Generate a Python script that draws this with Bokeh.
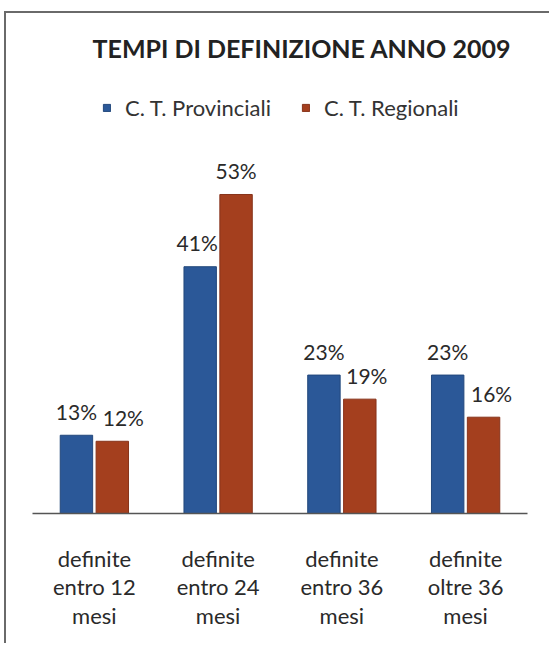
from bokeh.plotting import figure
from bokeh.models import ColumnDataSource, FactorRange, Range1d, Legend, LegendItem
from bokeh.transform import dodge
from bokeh.core.properties import value
from bokeh.embed import file_html
from bokeh.resources import INLINE

# ---- data ----
categories = ["definite\nentro 12\nmesi", "definite\nentro 24\nmesi",
              "definite\nentro 36\nmesi", "definite\noltre 36\nmesi"]
provinciali = [13, 41, 23, 23]
regionali = [12, 53, 19, 16]
series_names = ["C. T. Provinciali", "C. T. Regionali"]
title_text = "TEMPI DI DEFINIZIONE ANNO 2009"

# ---- style ----
BLUE = "#2b5898"
RED = "#a43f1e"
FONT = "Lato"
prov_label_dx = [0, -3, 0, 0]
reg_label_dx = [11, 0, 7, 8]

src = ColumnDataSource(dict(
    cat=categories,
    prov=provinciali,
    reg=regionali,
    prov_txt=[f"{v}%" for v in provinciali],
    reg_txt=[f"{v}%" for v in regionali],
    prov_dx=prov_label_dx,
    reg_dx=reg_label_dx,
))

p = figure(width=545, height=632, x_range=FactorRange(*categories, range_padding=0),
           y_range=Range1d(0, 74.1), output_backend="svg", toolbar_location=None,
           min_border_left=26, min_border_right=24, min_border_top=54,
           min_border_bottom=132)
p.background_fill_color = "white"
p.border_fill_color = "white"
p.outline_line_color = None
p.grid.visible = False
p.yaxis.visible = False
p.styles = {"border-top": "2px solid #6a6a6a", "border-left": "2px solid #6a6a6a",
            "margin-left": "4px", "margin-top": "11px"}

p.title.text = title_text
p.title.text_font = FONT
p.title.text_font_style = "bold"
p.title.text_font_size = "25px"
p.title.text_color = "#222222"
p.title.align = "left"
p.title.offset = 60
p.title.standoff = 10

r1 = p.vbar(x=dodge("cat", -0.145, range=p.x_range), top="prov", width=0.262,
            source=src, fill_color=BLUE, line_color="#23487c", line_width=1)
r2 = p.vbar(x=dodge("cat", 0.145, range=p.x_range), top="reg", width=0.262,
            source=src, fill_color=RED, line_color="#87331a", line_width=1)

p.text(x=dodge("cat", -0.145, range=p.x_range), y="prov", text="prov_txt", source=src,
       x_offset="prov_dx", y_offset=-24, text_align="center", text_baseline="middle",
       text_font=value(FONT), text_font_size="21px", text_color="#2a2a2a")
p.text(x=dodge("cat", 0.145, range=p.x_range), y="reg", text="reg_txt", source=src,
       x_offset="reg_dx", y_offset=-24, text_align="center", text_baseline="middle",
       text_font=value(FONT), text_font_size="21px", text_color="#2a2a2a")

xa = p.xaxis[0]
xa.axis_line_color = "#555555"
xa.axis_line_width = 1.5
xa.major_tick_line_color = None
xa.minor_tick_line_color = None
xa.major_label_standoff = 25
xa.major_label_text_font = FONT
xa.major_label_text_font_size = "22px"
xa.major_label_text_line_height = 1.07
xa.major_label_text_color = "#2a2a2a"

legend = Legend(items=[LegendItem(label=series_names[0], renderers=[r1]),
                       LegendItem(label=series_names[1], renderers=[r2])],
                orientation="horizontal", location=(70, 392),
                glyph_width=9, glyph_height=9, label_standoff=14, spacing=30,
                padding=0, margin=0, border_line_color=None,
                background_fill_alpha=0,
                label_text_font=FONT, label_text_font_size="22px",
                label_text_color="#333333")
p.add_layout(legend)

open("out.html", "w").write(file_html(p, INLINE))
